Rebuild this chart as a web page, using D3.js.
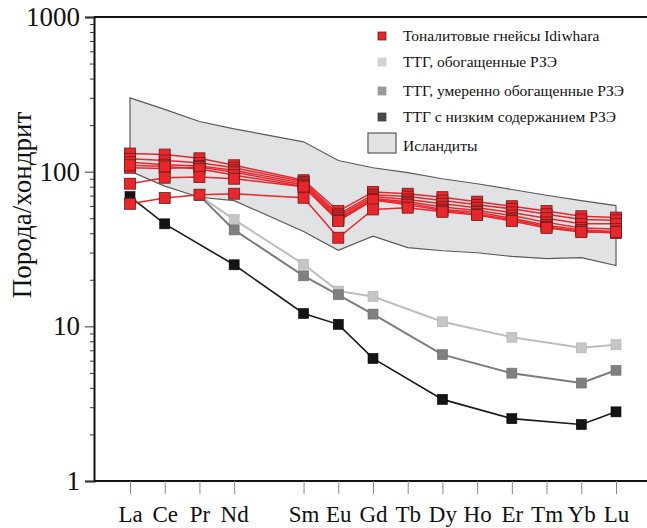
<!DOCTYPE html>
<html>

<head>
  <title>REE Chondrite-normalized Diagram</title>
  <script src="https://d3js.org/d3.v7.min.js"></script>
  <style>
    body {
      margin: 0;
      background-color: #ffffff;
    }

    svg {
      display: block;
      font-family: "Liberation Serif", "DejaVu Serif", serif;
    }

    .axis text {
      font-family: "Liberation Serif", serif;
      fill: #111;
    }

    .legend-text {
      font-size: 15.5px;
      fill: #111;
    }
  </style>
</head>

<body>
  <div class="chart"></div>
  <script>
    // Elements (Pm has no data and no label)
    const elements = ["La", "Ce", "Pr", "Nd", "Pm", "Sm", "Eu", "Gd", "Tb", "Dy", "Ho", "Er", "Tm", "Yb", "Lu"];
    const tickElements = elements.filter((e) => e !== "Pm");
    const yTickLabels = [1, 10, 100, 1000];

    // Icelandite field
    const icelanditeUpper = [300, 253, 211, 189, null, 156, 118, 106, 98.5, 90, 83.5, 76.7, 70.4, 65, 60.3];
    const icelanditeLower = [101, 80.6, 68.3, 65, null, 41, 31, 38.3, 32.3, 30.8, 29.9, 28.3, 27.4, 27.8, 24.7];

    // TTG reference series
    const ttgEnriched = [null, null, 70, 49, null, 25.2, 16.9, 15.6, null, 10.7, null, 8.5, null, 7.26, 7.6];
    const ttgModerate = [null, null, 70, 42, null, 21.2, 16, 12, null, 6.56, null, 4.98, null, 4.3, 5.2];
    const ttgLow = [69, 46, null, 25, null, 12.1, 10.3, 6.2, null, 3.37, null, 2.53, null, 2.32, 2.8];

    // Idiwhara tonalite gneisses
    const idiwharaA = [131, 129, 122, 110, null, 88, 55.6, 74, 72, 68.4, 64, 59.8, 55.6, 51.5, 50.5];
    const idiwharaB = [121, 118, 114, 106, null, 86, 53, 71, 69, 65, 61, 57.5, 53, 49, 48.5];
    const idiwharaC = [115, 111, 109, 102, null, 84, 51.5, 69, 66, 62, 58.5, 54.5, 50, 46, 46];
    const idiwharaD = [106, 105, 107, 99, null, 82, 50, 67, 64, 59, 56, 52, 47, 43.3, 42.6];
    const idiwharaE = [110, 108, 104, 95, null, 80.3, 48.8, 66, 62.6, 57, 54.7, 50, 45, 42, 41];
    const idiwharaF = [83.6, 91.4, 92.2, 90, null, 80, 48, 65.5, 61, 56, 53, 49, 44, 41, 40.2];
    const idiwharaG = [62, 67.5, 71, 72, null, 67.8, 37.4, 57, 58.5, 55, 52.5, 48, 43.3, 40.7, 40.7];
    const idiwharaSeries = [idiwharaA, idiwharaB, idiwharaC, idiwharaD, idiwharaE, idiwharaF, idiwharaG];

    const legendLabels = [
      "Тоналитовые гнейсы Idiwhara",
      "ТТГ, обогащенные РЗЭ",
      "ТТГ, умеренно обогащенные РЗЭ",
      "ТТГ с низким содержанием РЗЭ",
      "Исландиты"
    ];

    const width = 647;
    const height = 528;
    const plotLeft = 94;
    const plotTop = 17;
    const plotBottom = 481;

    const svg = d3
      .select(".chart")
      .append("svg")
      .attr("width", width)
      .attr("height", height);

    const x = d3.scaleLinear().domain([0, elements.length - 1]).range([130, 616]);
    const y = d3.scaleLog().domain([1, 1000]).range([plotBottom, plotTop]);

    const toPoints = (values) =>
      values.map((v, i) => ({ i: i, v: v })).filter((d) => d.v !== null);

    const line = d3.line().x((d) => x(d.i)).y((d) => y(d.v));

    // Icelandite field polygon
    const upperPts = toPoints(icelanditeUpper);
    const lowerPts = toPoints(icelanditeLower).reverse();
    svg.append("path")
      .attr("d", line(upperPts.concat(lowerPts)) + "Z")
      .attr("fill", "#e1e2e4")
      .attr("stroke", "#5a5a5a")
      .attr("stroke-width", 1.2);

    // TTG series
    const ttg = [
      { values: ttgEnriched, line: "#bdbdbd", fill: "#c6c6c6", stroke: "#b0b0b0", w: 2 },
      { values: ttgModerate, line: "#7c7c7c", fill: "#808080", stroke: "#6e6e6e", w: 2 },
      { values: ttgLow, line: "#1a1a1a", fill: "#141414", stroke: "#000", w: 1.6 }
    ];

    ttg.forEach((s) => {
      const pts = toPoints(s.values);
      svg.append("path")
        .attr("d", line(pts))
        .attr("fill", "none")
        .attr("stroke", s.line)
        .attr("stroke-width", s.w);
      svg.selectAll(null)
        .data(pts)
        .enter()
        .append("rect")
        .attr("x", (d) => x(d.i) - 5)
        .attr("y", (d) => y(d.v) - 5)
        .attr("width", 10)
        .attr("height", 10)
        .attr("fill", s.fill)
        .attr("stroke", s.stroke)
        .attr("stroke-width", 0.6);
    });

    // Idiwhara lines first, then markers on top
    idiwharaSeries.forEach((values) => {
      svg.append("path")
        .attr("d", line(toPoints(values)))
        .attr("fill", "none")
        .attr("stroke", "#e8262c")
        .attr("stroke-width", 1.5);
    });

    idiwharaSeries.forEach((values) => {
      svg.selectAll(null)
        .data(toPoints(values))
        .enter()
        .append("rect")
        .attr("x", (d) => x(d.i) - 5.5)
        .attr("y", (d) => y(d.v) - 5.5)
        .attr("width", 11)
        .attr("height", 11)
        .attr("fill", "#e8262b")
        .attr("stroke", "#6b1d1d")
        .attr("stroke-width", 0.8);
    });

    // Frame
    svg.append("line")
      .attr("x1", plotLeft).attr("x2", width)
      .attr("y1", plotTop).attr("y2", plotTop)
      .attr("stroke", "#111").attr("stroke-width", 2);
    svg.append("line")
      .attr("x1", plotLeft).attr("x2", width)
      .attr("y1", plotBottom).attr("y2", plotBottom)
      .attr("stroke", "#111").attr("stroke-width", 2);

    // Y axis (major + minor ticks)
    const yAxis = svg.append("g")
      .attr("class", "axis")
      .attr("transform", `translate(${plotLeft},0)`)
      .call(d3.axisLeft(y).tickValues(yTickLabels).tickSize(9).tickPadding(5).tickFormat(d3.format("d")));
    yAxis.select(".domain").attr("stroke", "#111").attr("stroke-width", 2);
    yAxis.selectAll(".tick line").attr("stroke", "#333").attr("stroke-width", 1);
    yAxis.selectAll("text").style("font-size", "27px");

    const minorTicks = y.ticks().filter((t) => !yTickLabels.includes(t));
    const yMinor = svg.append("g")
      .attr("transform", `translate(${plotLeft},0)`)
      .call(d3.axisLeft(y).tickValues(minorTicks).tickSize(4).tickFormat(""));
    yMinor.select(".domain").remove();
    yMinor.selectAll(".tick line").attr("stroke", "#333");

    // X axis
    const xAxis = svg.append("g")
      .attr("class", "axis")
      .attr("transform", `translate(0,${plotBottom})`)
      .call(d3.axisBottom(x)
        .tickValues(tickElements.map((e) => elements.indexOf(e)))
        .tickSize(13)
        .tickPadding(12)
        .tickFormat((i) => elements[i]));
    xAxis.select(".domain").remove();
    xAxis.selectAll(".tick line").attr("stroke", "#888").attr("stroke-width", 1);
    xAxis.selectAll("text").style("font-size", "23px");

    // Y axis title
    svg.append("text")
      .attr("transform", "translate(31,205) rotate(-90)")
      .attr("text-anchor", "middle")
      .style("font-size", "27px")
      .attr("fill", "#111")
      .text("Порода/хондрит");

    // Legend
    const legendY = [36, 62, 91, 117];
    const legendFill = ["#e8262b", "#d2d2d2", "#9a9a9a", "#474747"];
    const legendStroke = ["#6b1d1d", "#d2d2d2", "#9a9a9a", "#474747"];

    svg.selectAll(".legend-mark")
      .data(legendY)
      .enter()
      .append("rect")
      .attr("class", "legend-mark")
      .attr("x", 378)
      .attr("y", (d) => d - 4)
      .attr("width", 8)
      .attr("height", 8)
      .attr("fill", (d, i) => legendFill[i])
      .attr("stroke", (d, i) => legendStroke[i])
      .attr("stroke-width", 0.8);

    svg.append("rect")
      .attr("x", 368)
      .attr("y", 133)
      .attr("width", 28)
      .attr("height", 20)
      .attr("fill", "#e1e2e4")
      .attr("stroke", "#5a5a5a")
      .attr("stroke-width", 1.2);

    svg.selectAll(".legend-text")
      .data(legendLabels)
      .enter()
      .append("text")
      .attr("class", "legend-text")
      .attr("x", 403)
      .attr("y", (d, i) => (i < 4 ? legendY[i] : 146) + 1)
      .attr("dominant-baseline", "middle")
      .text((d) => d);
  </script>
</body>

</html>
